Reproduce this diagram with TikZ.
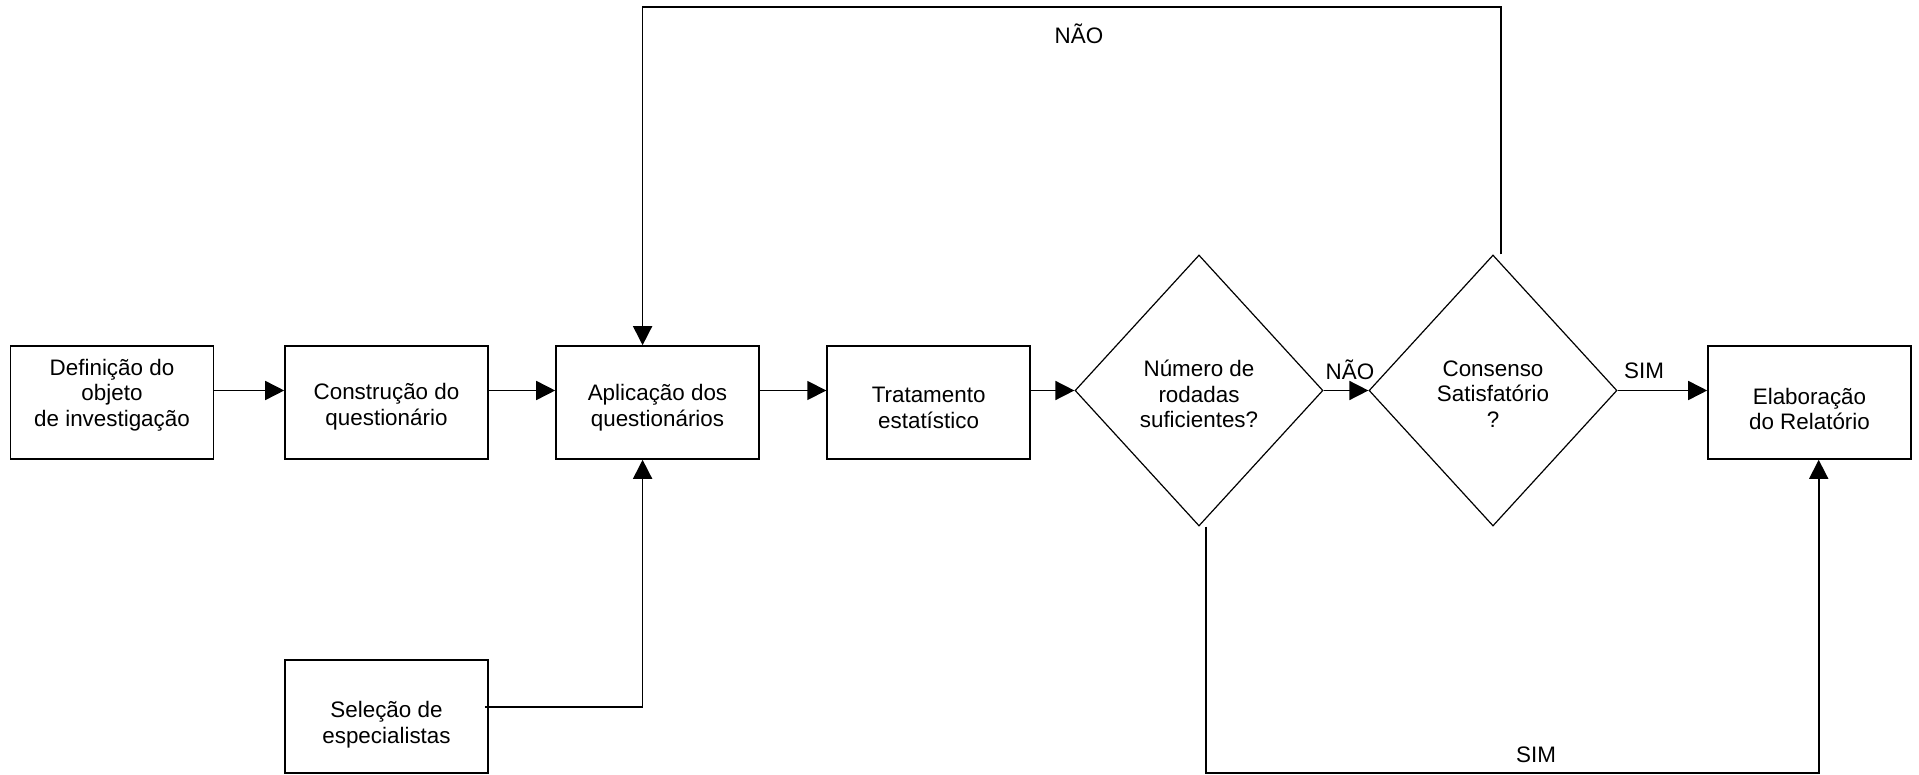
\documentclass[tikz,border=0pt]{standalone}
\usepackage{fontspec}
\setmainfont{Liberation Sans}
\usetikzlibrary{shapes.geometric,arrows.meta,calc}
\begin{document}
\begin{tikzpicture}[x=0.5pt,y=-0.5pt,
  every node/.style={font=\fontsize{11.2}{12.8}\selectfont},
  stepbox/.style={draw,line width=0.8pt,minimum width=101.5pt,minimum height=56.5pt,inner sep=0pt},
  txt/.style={align=center,inner sep=0pt},
  decision/.style={draw,diamond,line width=0.6pt,minimum width=124pt,minimum height=135.5pt,inner sep=0pt},
  flow/.style={line width=0.8pt,-{Triangle[length=9.5pt,width=9.5pt]}},
  lbl/.style={inner sep=0pt}]
\useasboundingbox (0,0) rectangle (1919,775);

% process boxes
\node[stepbox] (b1) at (112,402.5) {};
\node[stepbox] (b2) at (386.5,402.5) {};
\node[stepbox] (b3) at (657.5,402.5) {};
\node[stepbox] (b4) at (928.6,402.5) {};
\node[stepbox] (b5) at (1809.5,402.5) {};
\node[stepbox] (b6) at (386.5,716.5) {};

% decisions
\node[decision] (d1) at (1199,390.5) {};
\node[decision] (d2) at (1493,390.5) {};

% texts
\node[txt] (t1) at (112,395) {Definição do\\objeto\\de investigação};
\node[txt] (t2) at (386.5,407) {Construção do\\questionário};
\node[txt] (t3) at (657.5,408) {Aplicação dos\\questionários};
\node[txt] (t4) at (928.6,408) {Tratamento\\estatístico};
\node[txt] (t5) at (1809.5,409) {Elaboração\\do Relatório};
\node[txt] (t6) at (386.5,725) {Seleção de\\especialistas};
\node[txt] (t7) at (1199,394) {Número de\\rodadas\\suficientes?};
\node[txt] (t8) at (1493,394) {Consenso\\Satisfatório\\?};

% helper positions
\coordinate (jx) at (642.6,0);
\coordinate (kx) at (1818.7,0);
\coordinate (ty) at (0,7);
\coordinate (by) at (0,773);
\coordinate (c2top) at ([xshift=4pt]d2.north);
\coordinate (c1bot) at ([xshift=3.5pt]d1.south);
\coordinate (s0) at ($(b6.east)+(-4,-9.5)$);

% main flow
\draw[flow] (b1.east |- d1.center) -- (b2.west |- d1.center);
\draw[flow] (b2.east |- d1.center) -- (b3.west |- d1.center);
\draw[flow] (b3.east |- d1.center) -- (b4.west |- d1.center);
\draw[flow] (b4.east |- d1.center) -- (d1.west);
\draw[flow] (d1.east) -- (d2.west);
\draw[flow] (d2.east) -- (b5.west |- d2.east);

% feedback and side inputs
\draw[flow] (c2top) -- (c2top |- ty) -| (jx |- b3.north);
\draw[flow] (c1bot) -- (c1bot |- by) -| (kx |- b5.south);
\draw[flow] (s0) -| (jx |- b3.south);

% branch labels
\node[lbl] (n1) at (1079,34) {NÃO};
\node[lbl] (n2) at (1350,370) {NÃO};
\node[lbl] (s1) at (1644,371) {SIM};
\node[lbl] (s2) at (1536,755) {SIM};
\end{tikzpicture}
\end{document}
